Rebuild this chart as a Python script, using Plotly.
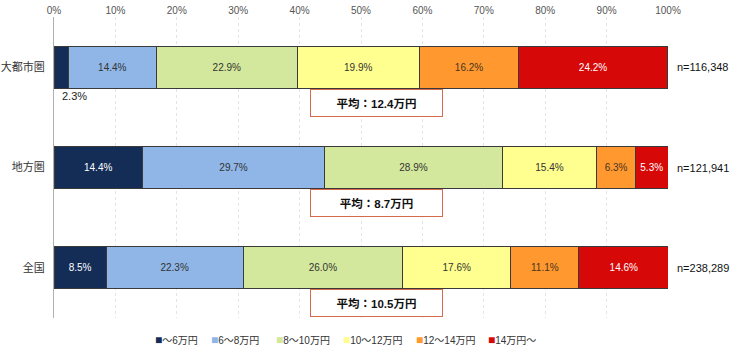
import plotly.graph_objects as go

regions = ["大都市圏", "地方圏", "全国"]
bands = ["～6万円", "6～8万円", "8～10万円", "10～12万円", "12～14万円", "14万円～"]
v_lt6 = [2.3, 14.4, 8.5]
v_6_8 = [14.4, 29.7, 22.3]
v_8_10 = [22.9, 28.9, 26.0]
v_10_12 = [19.9, 15.4, 17.6]
v_12_14 = [16.2, 6.3, 11.1]
v_14 = [24.2, 5.3, 14.6]
series = [v_lt6, v_6_8, v_8_10, v_10_12, v_12_14, v_14]
n_labels = ["n=116,348", "n=121,941", "n=238,289"]
avg_labels = ["平均：12.4万円", "平均：8.7万円", "平均：10.5万円"]
x_ticks = [0, 10, 20, 30, 40, 50, 60, 70, 80, 90, 100]

colors = ["#132d57", "#8fb6e6", "#d3e89c", "#ffff8f", "#ff992f", "#d60808"]
text_colors = ["white", "#333333", "#333333", "#333333", "#4a3320", "white"]

FONT = "Arial, 'Liberation Sans', 'Noto Sans CJK JP', sans-serif"

W, H = 730, 346
ML, MR, MT, MB = 54, 62, 17, 28
PW, PH = W - ML - MR, H - MT - MB

fig = go.Figure()
for name, vals, c, tc in zip(bands, series, colors, text_colors):
    texts = [f"{v:.1f}%" for v in vals]
    if name == bands[0]:
        texts[0] = ""
    fig.add_trace(go.Bar(
        y=regions, x=vals, name=name, orientation="h",
        marker=dict(color=c, line=dict(color="#3a3a3a", width=1)),
        text=texts, textposition="inside", insidetextanchor="middle",
        textfont=dict(size=10, color=tc, family=FONT),
        hoverinfo="skip", showlegend=False,
    ))

# label of thin first segment below bar
fig.add_annotation(x=v_lt6[0] / 2 + 2.2, y=0.29, xref="x", yref="y",
                   text=f"{v_lt6[0]:.1f}%", showarrow=False,
                   font=dict(size=11, color="#222222", family=FONT))

for i, (n, a) in enumerate(zip(n_labels, avg_labels)):
    fig.add_annotation(x=100, y=i, xref="x", yref="y", text=n, showarrow=False,
                       xanchor="left", xshift=7,
                       font=dict(size=11, color="#111111", family=FONT))
    fig.add_annotation(x=52.5, y=i + 0.355, xref="x", yref="y", text=f"<b>{a}</b>",
                       showarrow=False, bgcolor="white", bordercolor="#d56a4c",
                       borderwidth=1, borderpad=0, width=131, height=26,
                       font=dict(size=11.5, color="#111111", family=FONT))

# legend row (compact, like the original)
legend_px = [153, 209, 274, 341, 414, 486]
for name, c, px in zip(bands, colors, legend_px):
    fig.add_annotation(x=(px - ML) / PW, y=(MT + PH - 340) / PH, xref="paper", yref="paper",
                       xanchor="left", yanchor="middle", showarrow=False,
                       text=f'<span style="color:{c};font-size:12px">■</span>{name}',
                       font=dict(size=10, color="#333333", family=FONT))

fig.update_layout(
    barmode="stack", bargap=0.58,
    width=W, height=H,
    margin=dict(l=ML, r=MR, t=MT, b=MB, autoexpand=False),
    paper_bgcolor="white", plot_bgcolor="white",
    font=dict(family=FONT, size=11, color="#333333"),
    showlegend=False,
    uniformtext=dict(minsize=10, mode="show"),
)
fig.update_xaxes(side="top", range=[0, 100], tickvals=x_ticks,
                 ticktext=[f"{t}%" for t in x_ticks],
                 tickfont=dict(size=10, color="#555555"),
                 showgrid=True, gridcolor="#e4e4e4", griddash="dot", gridwidth=1,
                 zeroline=False, showline=False, ticks="", automargin=False)
fig.update_yaxes(categoryorder="array", categoryarray=regions, autorange="reversed",
                 showline=True, linecolor="#b0b0b0", linewidth=1, showgrid=False,
                 ticks="", tickfont=dict(size=11, color="#333333"), automargin=False,
                 ticklabelstandoff=6)

fig.write_html("out.html")
